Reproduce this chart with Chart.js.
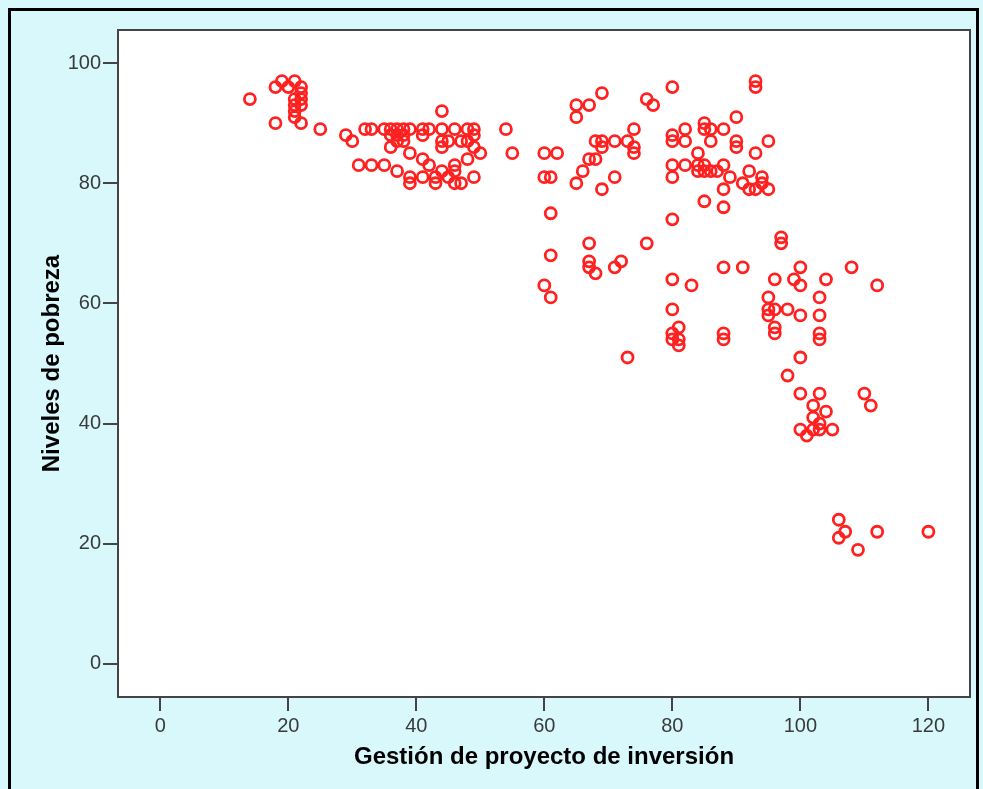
<!DOCTYPE html>
<html>
<head>
<meta charset="utf-8">
<script src="https://cdn.jsdelivr.net/npm/chart.js@4"></script>
<style>
  html, body { margin: 0; padding: 0; background: #d8f8fb; overflow: hidden; }
</style>
</head>
<body>
<canvas id="scatterChart" width="983" height="789"></canvas>
<script>
// === Datos ===
// Gestión de proyecto de inversión (eje X)
const gestion = [
  14, 18, 19, 20, 21, 22, 22, 21, 22, 21, 22, 21, 21, 22, 18, 25, 29, 30,
  32, 33, 35, 36, 37, 38, 39, 41, 42, 44, 46, 48, 49,
  36, 37, 38, 41, 49,
  37, 38, 44, 45, 47, 48,
  36, 44, 49,
  39, 50,
  41, 48,
  31, 33, 35, 42, 46,
  37, 44, 46,
  39, 41, 43, 45, 49,
  39, 43, 46, 47,
  44, 54, 55,
  65, 67, 65, 69, 76, 77, 80, 93, 93,
  60, 62, 60, 61, 67, 68, 66, 65, 71, 69, 68, 69, 71, 73, 74, 74, 74, 69,
  80, 80, 82, 82, 80, 80, 82, 84, 85, 85, 86, 86, 88, 90, 90, 90, 95, 93,
  84, 85, 84, 85, 86, 88, 87, 89, 88, 91, 92, 92, 93, 94, 94, 95,
  61, 61, 60, 61, 67, 67, 67, 68, 71, 72, 76, 73, 80, 85, 88,
  80, 83, 80, 81, 80, 80, 81, 81, 88, 91, 88, 88,
  96, 95, 95, 95, 96, 96, 96, 97, 97, 100, 99, 100, 104, 108, 112, 98, 100, 103, 103, 103, 103, 100, 98,
  100, 103, 110, 111, 102, 104, 102, 103, 100, 101, 102, 103, 105,
  106, 106, 107, 109, 112, 120
];

// Niveles de pobreza (eje Y)
const pobreza = [
  94, 96, 97, 96, 97, 96, 95, 94, 94, 93, 93, 92, 91, 90, 90, 89, 88, 87,
  89, 89, 89, 89, 89, 89, 89, 89, 89, 89, 89, 89, 89,
  88, 88, 88, 88, 88,
  87, 87, 87, 87, 87, 87,
  86, 86, 86,
  85, 85,
  84, 84,
  83, 83, 83, 83, 83,
  82, 82, 82,
  81, 81, 81, 81, 81,
  80, 80, 80, 80,
  92, 89, 85,
  93, 93, 91, 95, 94, 93, 96, 97, 96,
  85, 85, 81, 81, 84, 84, 82, 80, 81, 79, 87, 87, 87, 87, 89, 86, 85, 86,
  88, 87, 89, 87, 83, 81, 83, 85, 90, 89, 89, 87, 89, 91, 87, 86, 87, 85,
  83, 83, 82, 82, 82, 83, 82, 81, 79, 80, 82, 79, 79, 81, 80, 79,
  75, 68, 63, 61, 70, 67, 66, 65, 66, 67, 70, 51, 74, 77, 76,
  64, 63, 59, 56, 55, 54, 54, 53, 66, 66, 55, 54,
  64, 61, 59, 58, 59, 55, 56, 71, 70, 66, 64, 63, 64, 66, 63, 59, 58, 61, 58, 55, 54, 51, 48,
  45, 45, 45, 43, 43, 42, 41, 40, 39, 38, 39, 39, 39,
  24, 21, 22, 19, 22, 22
];

const xTickValues = [0, 20, 40, 60, 80, 100, 120];
const yTickValues = [0, 20, 40, 60, 80, 100];

const puntos = gestion.map((g, i) => ({ x: g, y: pobreza[i] }));

// === Fondo, marco exterior y borde del área de trazado ===
const marcoPlugin = {
  id: "marco",
  beforeDraw(chart) {
    const ctx = chart.ctx;
    const a = chart.chartArea;
    ctx.save();
    ctx.fillStyle = "#d8f8fb";
    ctx.fillRect(0, 0, chart.width, chart.height);
    ctx.strokeStyle = "#000";
    ctx.lineWidth = 3;
    ctx.strokeRect(9.5, 9.5, 968, 800);
    ctx.fillStyle = "#fff";
    ctx.fillRect(a.left, a.top, a.right - a.left, a.bottom - a.top);
    ctx.restore();
  },
  afterDraw(chart) {
    const ctx = chart.ctx;
    const a = chart.chartArea;
    ctx.save();
    ctx.strokeStyle = "#444";
    ctx.lineWidth = 2;
    ctx.strokeRect(a.left, a.top, a.right - a.left, a.bottom - a.top);
    ctx.restore();
  }
};

new Chart(document.getElementById("scatterChart"), {
  type: "scatter",
  data: {
    datasets: [{
      label: "Niveles de pobreza",
      data: puntos,
      pointStyle: "circle",
      pointRadius: 5.5,
      pointBorderWidth: 2.8,
      pointBorderColor: "#ff2020",
      pointBackgroundColor: "rgba(0,0,0,0)"
    }]
  },
  options: {
    responsive: false,
    animation: false,
    layout: { padding: { top: 30, right: 13, left: 0, bottom: 0 } },
    plugins: {
      legend: { display: false },
      tooltip: { enabled: false }
    },
    scales: {
      x: {
        type: "linear",
        min: -6.6,
        max: 126.5,
        afterBuildTicks: s => { s.ticks = xTickValues.map(v => ({ value: v })); },
        afterFit: s => { s.height = 92; },
        grid: { drawOnChartArea: false, tickLength: 14, tickColor: "#444", lineWidth: 2 },
        border: { display: false },
        ticks: { color: "#3a3a3a", padding: 3, font: { family: "Arial", size: 20 } },
        title: {
          display: true,
          text: "Gestión de proyecto de inversión",
          color: "#000",
          font: { family: "Arial", size: 24, weight: "bold" },
          padding: { top: 0, bottom: 17 }
        }
      },
      y: {
        type: "linear",
        min: -5.5,
        max: 105.5,
        afterBuildTicks: s => { s.ticks = yTickValues.map(v => ({ value: v })); },
        afterFit: s => { s.width = 118; },
        grid: { drawOnChartArea: false, tickLength: 15, tickColor: "#444", lineWidth: 2 },
        border: { display: false },
        ticks: { color: "#3a3a3a", padding: 2, font: { family: "Arial", size: 20 } },
        title: {
          display: true,
          text: "Niveles de pobreza",
          color: "#000",
          font: { family: "Arial", size: 24, weight: "bold" },
          padding: { top: 38, bottom: 0 }
        }
      }
    }
  },
  plugins: [marcoPlugin]
});
</script>
</body>
</html>
